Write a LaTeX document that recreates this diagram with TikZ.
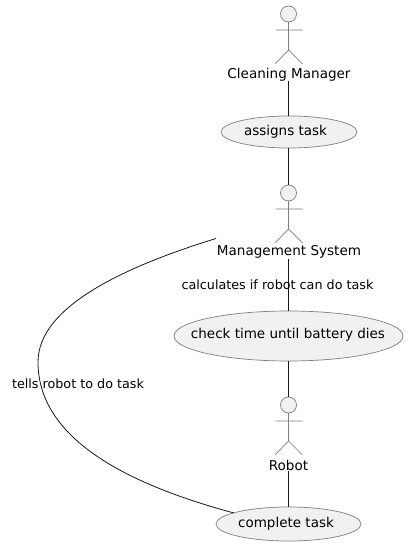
\documentclass[tikz,border=0pt]{standalone}
\usepackage{fontspec}
\setmainfont{DejaVu Sans}
\usetikzlibrary{shapes.geometric}
\definecolor{ucfill}{HTML}{F1F1F1}
\definecolor{ucline}{HTML}{7F7F7F}
\definecolor{lnk}{HTML}{181818}
\tikzset{
  x=1bp,y=-1bp,
  usecase/.style={ellipse,draw=ucline,fill=ucfill,line width=0.7bp,inner sep=0pt,text=black},
  actorname/.style={inner sep=0pt,text=black,font=\fontsize{13.55bp}{16bp}\selectfont},
  casename/.style={inner sep=0pt,text=black,font=\fontsize{13.5bp}{16bp}\selectfont},
  linklabel/.style={inner sep=0pt,text=black,font=\fontsize{12.75bp}{15bp}\selectfont},
  link/.style={draw=lnk,line width=0.8bp},
  actorhead/.style={circle,draw=ucline,fill=ucfill,line width=0.7bp,minimum size=16bp,inner sep=0pt},
  limb/.style={draw=ucline,line width=0.7bp},
  pics/stick/.style={code={
    \node[actorhead] (#1head) at (0,0) {};
    \draw[limb] (0,8) -- (0,36) (-13,16) -- (14,16) (-13.5,50) -- (0,36) -- (14,50);
  }}
}
\begin{document}
\begin{tikzpicture}
\useasboundingbox (0,0) rectangle (407,546);
\fill[white] (0,0) rectangle (407,546);
\pic at (288.5,14) {stick=cm};
\pic at (288.5,193) {stick=ms};
\pic at (288.5,405) {stick=rb};
\node[actorname] (cmt) at (289,74.3) {Cleaning Manager};
\node[actorname] (mst) at (289,252.3) {Management System};
\node[actorname] (rbt) at (288.5,465.3) {Robot};
\node[usecase,minimum width=136bp,minimum height=32bp] (u1) at (289,132) {};
\node[usecase,minimum width=229bp,minimum height=50bp] (u2) at (288.5,336) {};
\node[usecase,minimum width=145bp,minimum height=34bp] (u3) at (288.5,524) {};
\node[casename] (u1t) at (285.5,131.5) {assigns task};
\node[casename] (u2t) at (288,334.5) {check time until battery dies};
\node[casename] (u3t) at (286,523.5) {complete task};
\coordinate (csw) at (216,238.5);
\coordinate (cue) at (234,513);
\draw[link] (cmt.south -| cmhead.south) -- (u1.north -| cmhead.south);
\draw[link] (u1.south -| cmhead.south) -- (mshead.north);
\draw[link] (mst.south -| mshead.south) -- (u2.north -| mshead.south);
\draw[link] (u2.south -| mshead.south) -- (rbhead.north);
\draw[link] (rbt.south -| rbhead.south) -- (u3.north -| rbhead.south);
\draw[link] (csw) .. controls (130,265) and (38,305) .. (38,362)
  .. controls (38,440) and (130,485) .. (cue);
\node[linklabel] (l1) at (277.5,285) {calculates if robot can do task};
\node[linklabel] (l2) at (78,383.5) {tells robot to do task};
\end{tikzpicture}
\end{document}
